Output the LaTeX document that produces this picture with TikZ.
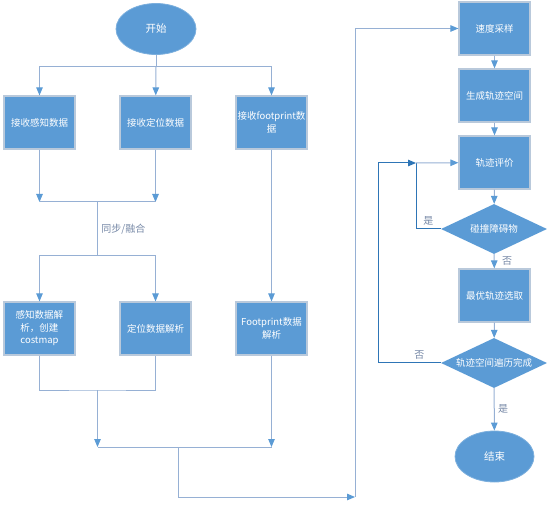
\documentclass[tikz,border=0pt]{standalone}
\usepackage{fontspec}
\newfontfamily\cjk{Noto Sans CJK SC}
\usetikzlibrary{arrows.meta,shapes.geometric}
\definecolor{boxblue}{RGB}{91,155,213}
\definecolor{boxedge}{RGB}{185,201,219}
\definecolor{flowline}{RGB}{150,176,212}
\definecolor{loopline}{RGB}{46,117,182}
\definecolor{lblgray}{RGB}{118,136,166}

\begin{document}
\begin{tikzpicture}[x=1pt,y=-1pt,
  proc/.style={draw=boxedge,line width=1.2pt,fill=boxblue,minimum width=71pt,minimum height=53pt,
    inner sep=1pt,font=\cjk\fontsize{9.5}{12.5}\selectfont,text=white,align=center},
  term/.style={ellipse,draw=boxblue!80!white,line width=0.8pt,fill=boxblue,minimum width=80pt,
    minimum height=51pt,inner sep=0pt,font=\cjk\fontsize{10.5}{12}\selectfont,text=white},
  dec/.style={diamond,fill=boxblue,minimum width=106pt,minimum height=50pt,inner sep=0pt},
  dtext/.style={font=\cjk\fontsize{9.5}{12}\selectfont,text=white},
  flow/.style={draw=flowline,line width=1pt},
  arr/.style={flow,-{Triangle[length=8pt,width=6.5pt,color=boxblue]}},
  loop/.style={draw=loopline,line width=1pt},
  lbl/.style={font=\cjk\fontsize{10}{12}\selectfont,text=lblgray}
]
  \useasboundingbox (0,0) rectangle (554,510);

  % left part: receive and parse
  \node[term] (start) at (156,29) {开始};
  \node[proc] (rcvper) at (39.5,122.5) {接收感知数据};
  \node[proc] (rcvloc) at (155.5,122.5) {接收定位数据};
  \node[proc] (rcvfp) at (271.5,122.5) {接收footprint数\\据};
  \node[proc] (parper) at (39.5,328.5) {感知数据解\\析，创建\\costmap};
  \node[proc] (parloc) at (155.5,328.5) {定位数据解析};
  \node[proc] (parfp) at (271.5,328.5) {Footprint数据\\解析};

  % right part: trajectory search
  \node[proc] (sample) at (494.5,28.5) {速度采样};
  \node[proc] (gen) at (494.5,95.5) {生成轨迹空间};
  \node[proc] (eval) at (494.5,162.5) {轨迹评价};
  \node[dec] (hit) at (494,229) {};
  \node[dtext] at (hit) {碰撞障碍物};
  \node[proc] (best) at (494.5,295.5) {最优轨迹选取};
  \node[dec] (done) at (494,363) {};
  \node[dtext] at (done) {轨迹空间遍历完成};
  \node[term,minimum width=79pt] (end) at (494.5,456.5) {结束};

  \coordinate (split) at (156,67);
  \coordinate (sync) at (97.5,202);
  \coordinate (fork) at (97.5,256);
  \coordinate (join) at (97.5,390);
  \coordinate (merge) at (178,447);
  \coordinate (turn) at (355,497);
  \coordinate (yes) at (416,163);
  \coordinate (no) at (378,163);

  \draw[flow] (start) -- (split);
  \draw[arr] (split) -| (rcvper);
  \draw[arr] (split) -- (rcvloc);
  \draw[arr] (split) -| (rcvfp);
  \draw[arr] (rcvper) -- (rcvper |- sync);
  \draw[arr] (rcvloc) -- (rcvloc |- sync);
  \draw[flow] (rcvper |- sync) -- (rcvloc |- sync);
  \draw[flow] (sync) -- (fork) node[lbl,midway,right] {同步/融合};
  \draw[flow] (parper |- fork) -- (parloc |- fork);
  \draw[arr] (fork) -| (parper);
  \draw[arr] (fork) -| (parloc);
  \draw[arr] (rcvfp) -- (parfp);
  \draw[flow] (parper) |- (join) -| (parloc);
  \draw[arr] (join) -- (join |- merge);
  \draw[arr] (parfp) -- (parfp |- merge);
  \draw[flow] (join |- merge) -- (parfp |- merge);
  \draw[arr] (merge) |- (turn);
  \draw[arr] (turn) |- (sample);

  \draw[arr] (sample) -- (gen);
  \draw[arr] (gen) -- (eval);
  \draw[arr] (eval) -- (hit);
  \draw[arr] (hit) -- (best) node[lbl,midway,right,xshift=4pt] {否};
  \draw[arr] (best) -- (done);
  \draw[arr] (done) -- (end) node[lbl,midway,right] {是};
  \draw[loop] (hit) -| (yes) node[lbl,pos=0.25,above] {是};
  \draw[arr] (yes) -- (eval);
  \draw[loop,-{Triangle[length=8pt,width=6.5pt,color=loopline]}] (done) -| (no)
    node[lbl,pos=0.17,above] {否} -- (yes);
\end{tikzpicture}
\end{document}
